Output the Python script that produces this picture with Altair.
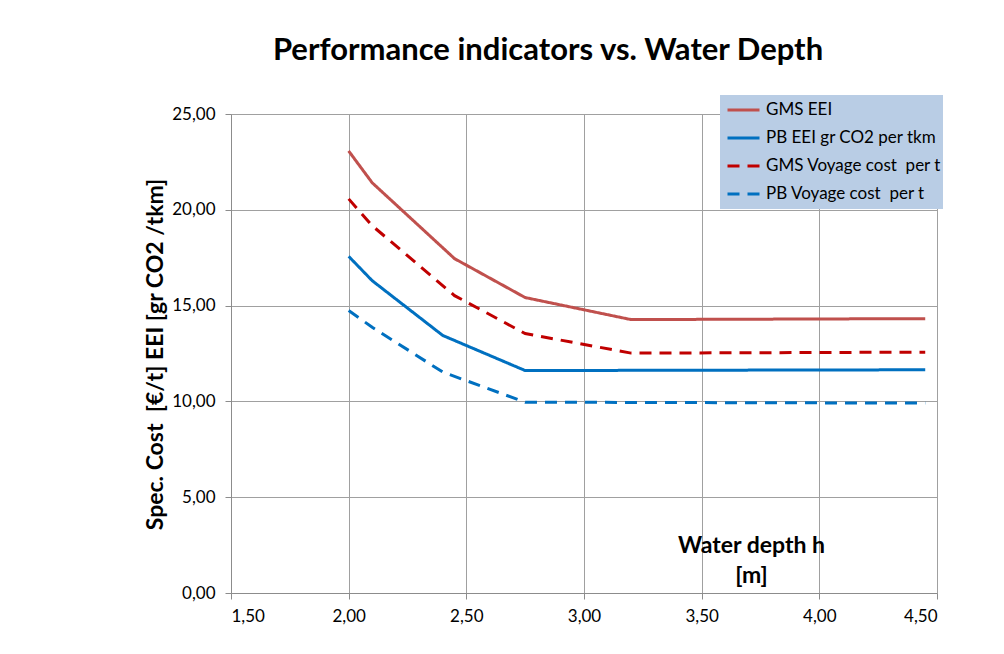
import altair as alt
import pandas as pd

# ---- data ----
x_gms = [2.00, 2.10, 2.45, 2.75, 3.20, 4.45]
gms_eei = [23.07, 21.41, 17.45, 15.42, 14.27, 14.32]
gms_voyage = [20.57, 19.17, 15.52, 13.54, 12.52, 12.57]

x_pb = [2.00, 2.10, 2.40, 2.75, 4.45]
pb_eei = [17.57, 16.30, 13.44, 11.61, 11.65]
pb_voyage = [14.74, 13.87, 11.53, 9.96, 9.91]

series_names = [
    "GMS EEI",
    "PB EEI gr CO2 per tkm",
    "GMS Voyage cost \u00a0per t",
    "PB Voyage cost \u00a0per t",
]
series_colors = ["#C0504D", "#0070C0", "#C00000", "#0070C0"]
series_dash = [[1, 0], [1, 0], [12, 8], [12, 8]]

x_ticks = [1.5, 2.0, 2.5, 3.0, 3.5, 4.0, 4.5]
y_ticks = [0, 5, 10, 15, 20, 25]

rows = []
for name, xs, ys in [
    (series_names[0], x_gms, gms_eei),
    (series_names[1], x_pb, pb_eei),
    (series_names[2], x_gms, gms_voyage),
    (series_names[3], x_pb, pb_voyage),
]:
    for i, (xv, yv) in enumerate(zip(xs, ys)):
        rows.append({"series": name, "depth": xv, "value": yv, "order": i})
df = pd.DataFrame(rows)

FONT = "Lato"
comma_fmt = "replace(format(datum.value, '.2f'), '.', ',')"

chart = (
    alt.Chart(df)
    .mark_line(strokeWidth=3)
    .encode(
        x=alt.X(
            "depth:Q",
            scale=alt.Scale(domain=[1.5, 4.5], nice=False, zero=False),
            axis=alt.Axis(
                values=x_ticks,
                labelExpr=comma_fmt,
                title=["Water depth h", "[m]"],
                titleX=520,
                titleY=-48,
                titleAlign="center",
                titleBaseline="middle",
                titleFontSize=23,
                titleLineHeight=30,
                titleFont=FONT,
                titleFontWeight="bold",
                titleColor="#000000",
            ),
        ),
        y=alt.Y(
            "value:Q",
            scale=alt.Scale(domain=[0, 25], nice=False),
            axis=alt.Axis(
                values=y_ticks,
                labelExpr=comma_fmt,
                title="Spec. Cost \u00a0[€/t] EEI [gr CO2 /tkm]",
                titleX=-76,
                titleY=240,
                titleAngle=-90,
                titleAlign="center",
                titleBaseline="middle",
                titleFontSize=23,
                titleFont=FONT,
                titleFontWeight="bold",
                titleColor="#000000",
            ),
        ),
        color=alt.Color(
            "series:N",
            scale=alt.Scale(domain=series_names, range=series_colors),
            legend=alt.Legend(
                title=None,
                orient="none",
                legendX=489,
                legendY=-19,
                fillColor="#B9CDE5",
                padding=1,
                symbolOffset=5,
                symbolType="stroke",
                symbolSize=1024,
                symbolStrokeWidth=3,
                labelFontSize=17,
                labelFont=FONT,
                labelColor="#000000",
                labelOffset=5,
                labelLimit=400,
                rowPadding=0,
                clipHeight=28,
                symbolOpacity=1,
            ),
        ),
        strokeDash=alt.StrokeDash(
            "series:N",
            scale=alt.Scale(domain=series_names, range=series_dash),
            legend=None,
        ),
        order="order:Q",
    )
    .properties(
        width=706,
        height=479,
        title=alt.Title(
            "Performance indicators vs. Water Depth",
            fontSize=31,
            font=FONT,
            fontWeight="bold",
            color="#000000",
            anchor="middle",
            dx=-36,
            offset=28,
        ),
        autosize=alt.AutoSizeParams(type="none"),
        padding={"left": 223, "top": 106, "right": 59, "bottom": 53},
    )
    .configure_view(stroke=None)
    .configure_axis(
        grid=True,
        gridColor="#A0A0A0",
        gridWidth=1,
        domainColor="#8C8C8C",
        domainWidth=1,
        tickColor="#8C8C8C",
        tickSize=6,
        labelFont=FONT,
        labelFontSize=17,
        labelColor="#000000",
    )
    .configure_axisY(labelPadding=10)
    .configure_axisX(labelPadding=9)
)

chart.save("out.html", embed_options={"renderer": "svg", "actions": False})
